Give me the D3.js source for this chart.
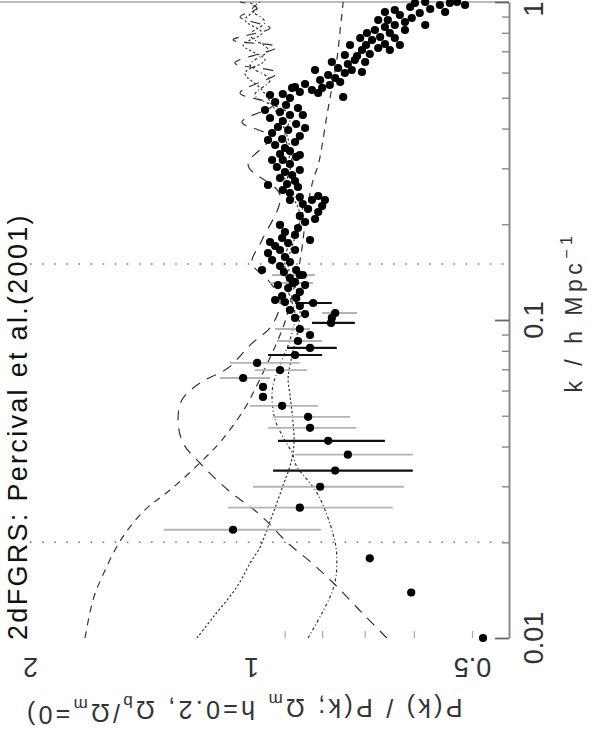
<!DOCTYPE html>
<html><head><meta charset="utf-8">
<script src="https://cdn.jsdelivr.net/npm/d3@7"></script>
<style>html,body{margin:0;padding:0;background:#fff;} svg{display:block;}</style>
</head><body><svg id="c" width="598" height="738"></svg>
<script>
// ---------- data (k in h/Mpc, P = power ratio) ----------
const kTicksMajor = [0.01, 0.1, 1];
const kTicksMinor = [0.02,0.03,0.04,0.05,0.06,0.07,0.08,0.09,0.2,0.3,0.4,0.5,0.6,0.7,0.8,0.9];
const pTickLabels = [0.5, 1, 2];
const pTicksMinor = [0.5, 0.6, 0.7, 0.8, 0.9];
const fitRange = [0.02, 0.15];

const modelA = [[0.0100,1.683],[0.0132,1.641],[0.0158,1.591],[0.0206,1.499],[0.0253,1.394],[0.0292,1.289],[0.0355,1.174],[0.0420,1.095],[0.0529,1.019],[0.0625,0.981],[0.0738,0.948],[0.0865,0.919],[0.0986,0.899],[0.1198,0.879],[0.1522,0.858],[0.2218,0.839],[0.2756,0.823],[0.3072,0.810],[0.3551,0.800],[0.4412,0.788],[0.5366,0.776],[0.6571,0.764],[0.8165,0.756],[1.000,0.749]];
const modelB = [[0.0100,0.653],[0.0120,0.706],[0.0147,0.768],[0.0172,0.826],[0.0200,0.893],[0.0244,0.972],[0.0292,1.075],[0.0355,1.174],[0.0411,1.238],[0.0485,1.257],[0.0560,1.242],[0.0634,1.174],[0.0706,1.075],[0.0834,1.003],[0.0964,0.936],[0.1156,0.913],[0.1336,0.948],[0.1511,0.997],[0.1785,0.966],[0.2472,0.913],[0.3072,1.009],[0.3762,0.942],[0.4195,1.029],[0.4744,0.933],[0.5175,1.035],[0.5980,0.922],[0.6429,1.052],[0.7220,0.922],[0.7595,1.058],[0.8284,0.942],[0.8970,1.035],[0.9574,0.981],[1.000,1.035]];
const modelC = [[0.0100,1.185],[0.0116,1.127],[0.0145,1.045],[0.0172,1.003],[0.0193,0.972],[0.0224,0.948],[0.0266,0.922],[0.0307,0.902],[0.0347,0.885],[0.0405,0.874],[0.0485,0.877],[0.0581,0.885],[0.0657,0.890],[0.0776,0.879],[0.0930,0.863],[0.1156,0.858],[0.1489,0.890],[0.2139,0.858],[0.2756,0.899],[0.3424,0.885],[0.4104,0.905],[0.5288,0.966],[0.5980,1.019],[0.6571,0.957],[0.7325,1.025],[0.7990,0.966],[0.8778,1.019],[0.9574,0.981],[1.000,1.009]];
const modelD = [[0.0100,0.836],[0.0120,0.800],[0.0139,0.776],[0.0156,0.766],[0.0176,0.764],[0.0193,0.766],[0.0219,0.776],[0.0253,0.793],[0.0286,0.813],[0.0321,0.844],[0.0345,0.866],[0.0382,0.879],[0.0429,0.905],[0.0485,0.927],[0.0560,0.936],[0.0625,0.933],[0.0722,0.913],[0.0865,0.885],[0.1037,0.871],[0.1243,0.890],[0.1522,0.899],[0.1785,0.885],[0.2218,0.850],[0.2658,0.893],[0.3185,0.880],[0.3817,0.899],[0.4412,0.885],[0.5100,0.988],[0.5685,0.942],[0.6337,1.003],[0.7064,0.948],[0.7874,1.003],[0.8652,0.957],[0.9437,0.997],[1.000,0.972]];

// [k, P, P_high, P_low]
const errBlack = [[0.1131,0.823,0.871,0.776],[0.0979,0.778,0.826,0.722],[0.0817,0.831,0.893,0.764],[0.0776,0.871,0.948,0.800],[0.0417,0.785,0.919,0.657],[0.0336,0.768,0.933,0.602]];
const errGray = [[0.1052,0.768,0.800,0.717],[0.0937,0.858,0.927,0.831],[0.0859,0.863,0.922,0.800],[0.0733,0.981,1.068,0.858],[0.0696,0.913,0.988,0.839],[0.0657,1.025,1.102,0.942],[0.0537,0.907,1.003,0.810],[0.0496,0.836,0.933,0.733],[0.0458,0.831,0.948,0.719],[0.0377,0.738,0.871,0.602],[0.0299,0.805,0.994,0.619],[0.0257,0.858,1.075,0.641],[0.0219,1.058,1.314,0.803],[0.1385,0.858,0.936,0.818],[0.1307,0.877,0.942,0.823]];
const plainPts = [[0.1015,0.776],[0.0897,0.831],[0.0616,0.963],[0.0573,0.963],[0.0178,0.689],[0.0139,0.605],[0.0100,0.483]];
const cloud = [[0.1015,0.871],[0.1044,0.844],[0.1075,0.885],[0.1107,0.858],[0.1139,0.899],[0.1173,0.868],
[0.1189,0.907],[0.1225,0.858],[0.1260,0.890],[0.1288,0.919],[0.1317,0.871],[0.1355,0.885],[0.1385,0.850],[0.1415,0.902],[0.1436,0.868],[0.1478,0.913],[0.1522,0.885],
[0.1544,0.936],[0.1578,0.899],[0.1624,0.948],[0.1660,0.913],[0.1709,0.927],[0.1746,0.890],[0.1759,0.942],
[0.1811,0.907],[0.1851,0.871],[0.1891,0.899],[0.1947,0.863],[0.1990,0.913],
[0.2033,0.844],[0.2078,0.818],[0.2124,0.858],[0.2186,0.810],[0.2234,0.836],[0.2282,0.800],[0.2316,0.850],[0.2384,0.826],[0.2436,0.858],[0.2454,0.810],
[0.2508,0.885],[0.2563,0.905],[0.2620,0.863],[0.2677,0.893],[0.2736,0.871],[0.2796,0.913],[0.2857,0.879],[0.2920,0.899],[0.2963,0.858],[0.3028,0.922],[0.3094,0.885],[0.3185,0.905],[0.3256,0.868],[0.3327,0.913],[0.3399,0.885],
[0.3474,0.899],[0.3551,0.927],[0.3629,0.871],[0.3709,0.907],[0.3789,0.858],[0.3873,0.936],[0.3958,0.890],[0.4045,0.919],[0.4134,0.868],[0.4225,0.905],[0.4318,0.942],[0.4412,0.885],[0.4509,0.913],[0.4642,0.863],[0.4744,0.896],[0.4847,0.927],
[0.4990,0.885],[0.5137,0.905],[0.5212,0.858],[0.5288,0.826],[0.5404,0.871],[0.5366,0.800],[0.5483,0.781],[0.5523,0.844],[0.5027,0.749],
[0.5685,0.805],[0.5768,0.768],[0.5894,0.785],[0.5980,0.745],[0.6112,0.729],[0.6201,0.761],[0.6024,0.706],[0.6383,0.738],[0.6477,0.776],[0.6571,0.722],
[0.6764,0.717],[0.6863,0.689],[0.7064,0.706],[0.7167,0.671],[0.7325,0.697],[0.7378,0.657],[0.7325,0.627],[0.7595,0.684],[0.7761,0.667],[0.7706,0.710],[0.7990,0.647],[0.8165,0.678],[0.8344,0.657],
[0.8466,0.637],[0.8652,0.617],[0.8778,0.651],[0.8906,0.604],[0.9101,0.627],[0.9234,0.589],[0.9437,0.637],[0.9506,0.570],[0.9645,0.607],[0.9785,0.553],[0.9928,0.536],[1.000,0.579],[1.000,0.524],
[0.2658,0.948],[0.3185,0.936],[0.3303,0.858],[0.3682,0.948],[0.4016,0.844],[0.4575,0.957],[0.4412,0.850],[0.5100,0.942],[0.5175,0.810],[0.5366,0.879],[0.5603,0.756],[0.6112,0.818],[0.6477,0.699],[0.6813,0.745],[0.7064,0.647],[0.7325,0.733],[0.7706,0.637],[0.7990,0.695],[0.8165,0.617],[0.8778,0.671],[0.8466,0.579],[0.9302,0.544],[0.9302,0.657],[0.9928,0.598],[0.9785,0.511],[0.1785,0.831],[0.1660,0.871],[0.1436,0.966],[0.1288,0.844],[0.1156,0.927],[0.2384,0.885],[0.2384,0.793]];

// ---------- drawing ----------
const svg = d3.select("#c");
svg.append("rect").attr("width",598).attr("height",738).attr("fill","#fff");
const axisX = 509;
const k = d3.scaleLog().domain([0.01, 1]).range([638, 2]);   // vertical
const p = d3.scaleLog().domain([0.5, 2]).range([472, 30]);   // horizontal
const FONT = "'Liberation Sans', Arial, sans-serif";

// top border (k = 1)
svg.append("line").attr("x1",0).attr("x2",axisX).attr("y1",k(1)).attr("y2",k(1))
  .attr("stroke","#bbb").attr("stroke-width",2);

// fit-range dotted lines
svg.selectAll(".fit").data(fitRange).join("line")
  .attr("x1",p(2)).attr("x2",axisX-4).attr("y1",d=>k(d)).attr("y2",d=>k(d))
  .attr("stroke","#777").attr("stroke-width",1.6).attr("stroke-dasharray","1.6,10.5");

// model curves
const line = d3.line().x(d=>p(d[1])).y(d=>k(d[0])).curve(d3.curveCatmullRom.alpha(0.5));
const models = [
  {d:modelA, dash:"7,6"},
  {d:modelB, dash:"10,8"},
  {d:modelC, dash:"2.2,2.2"},
  {d:modelD, dash:"3,2.5,1,2.5"}
];
svg.selectAll(".model").data(models).join("path")
  .attr("d",m=>line(m.d)).attr("fill","none").attr("stroke","#333")
  .attr("stroke-width",1.2).attr("stroke-dasharray",m=>m.dash);

// error bars
svg.selectAll(".eg").data(errGray).join("line")
  .attr("x1",d=>p(d[2])).attr("x2",d=>p(d[3])).attr("y1",d=>k(d[0])).attr("y2",d=>k(d[0]))
  .attr("stroke","#b4b4b4").attr("stroke-width",1.8);
svg.selectAll(".eb").data(errBlack).join("line")
  .attr("x1",d=>p(d[2])).attr("x2",d=>p(d[3])).attr("y1",d=>k(d[0])).attr("y2",d=>k(d[0]))
  .attr("stroke","#111").attr("stroke-width",2.2);

// points
const allPts = [].concat(errBlack.map(d=>[d[0],d[1]]), errGray.map(d=>[d[0],d[1]]), plainPts, cloud);
svg.selectAll(".pt").data(allPts).join("circle")
  .attr("cx",d=>p(d[1])).attr("cy",d=>k(d[0])).attr("r",4.1).attr("fill","#000");

// k axis (right)
const gMinor = svg.append("g").attr("transform",`translate(${axisX},0)`)
  .call(d3.axisLeft(k).tickValues(kTicksMinor).tickSize(7).tickSizeOuter(0).tickFormat(""));
gMinor.select(".domain").remove();
gMinor.selectAll("line").attr("stroke","#888").attr("stroke-width",1.4);
const gMajor = svg.append("g").attr("transform",`translate(${axisX},0)`)
  .call(d3.axisLeft(k).tickValues(kTicksMajor).tickSize(14).tickSizeOuter(0).tickFormat(""));
gMajor.select(".domain").attr("stroke","#888").attr("stroke-width",2);
gMajor.selectAll("line").attr("stroke","#666").attr("stroke-width",1.8);

const gKLab = svg.append("g").attr("transform",`translate(${axisX},0)`)
  .call(d3.axisRight(k).tickValues(kTicksMajor).tickSize(0).tickFormat(d3.format("~g")));
gKLab.select(".domain").remove();
gKLab.attr("font-size",27).attr("font-family",FONT);
gKLab.selectAll(".tick").attr("transform",d=>`translate(0,${Math.max(k(d),9)})`);
gKLab.selectAll("text").attr("x",0).attr("dy",0).attr("fill","#333")
  .attr("text-anchor","middle").attr("transform","translate(34,0) rotate(-90)");

// P axis (bottom): minor ticks + upside-down labels
const gPm = svg.append("g").attr("transform","translate(0,638)")
  .call(d3.axisTop(p).tickValues(pTicksMinor).tickSize(7).tickSizeOuter(0).tickFormat(""));
gPm.select(".domain").remove();
gPm.selectAll("line").attr("stroke","#aaa").attr("stroke-width",1.2);
const gP = svg.append("g").attr("transform","translate(0,638)")
  .call(d3.axisBottom(p).tickValues(pTickLabels).tickSize(0).tickFormat(d3.format("~g")));
gP.select(".domain").remove();
gP.attr("font-size",27).attr("font-family",FONT);
gP.selectAll("text").attr("y",0).attr("dy",0).attr("fill","#333")
  .attr("text-anchor","middle").attr("transform","translate(0,20) rotate(180)");

// titles
svg.append("text").attr("transform","translate(27,640) rotate(-90)")
  .attr("font-family",FONT).attr("font-size",27).attr("fill","#111")
  .attr("letter-spacing",2.3)
  .text("2dFGRS: Percival et al.(2001)");

const yt = svg.append("text").attr("transform","translate(243,699) rotate(180)")
  .attr("text-anchor","middle").attr("font-family",FONT).attr("font-size",25)
  .attr("fill","#333").attr("letter-spacing",3.3);
yt.append("tspan").text("P(k) / P(k; Ω");
yt.append("tspan").attr("font-size",17).attr("dy","0.3em").text("m");
yt.append("tspan").attr("dy","-0.3em").text(" h=0.2, Ω");
yt.append("tspan").attr("font-size",17).attr("dy","0.3em").text("b");
yt.append("tspan").attr("dy","-0.3em").text("/Ω");
yt.append("tspan").attr("font-size",17).attr("dy","0.3em").text("m");
yt.append("tspan").attr("dy","-0.3em").text("=0)");

const xt = svg.append("text").attr("transform","translate(582,312) rotate(-90)")
  .attr("text-anchor","middle").attr("font-family",FONT).attr("font-size",23)
  .attr("fill","#333").attr("letter-spacing",4.5);
xt.append("tspan").text("k / h Mpc");
xt.append("tspan").attr("font-size",16).attr("dy","-0.6em").text("−1");
</script></body></html>
